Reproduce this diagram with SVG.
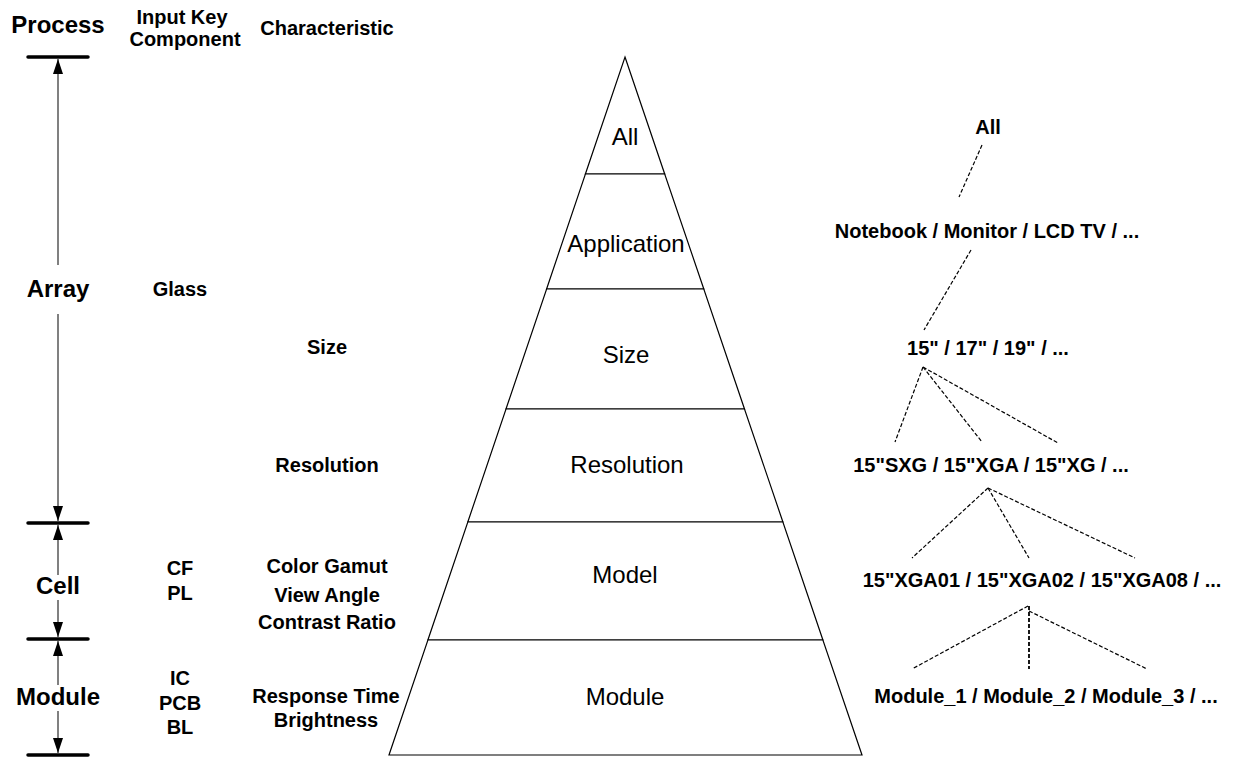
<svg xmlns="http://www.w3.org/2000/svg" width="1233" height="757" viewBox="0 0 1233 757">
  <style>
    text { font-family: "Liberation Sans", Arial, sans-serif; fill: #000; text-anchor: middle; }
    .stage { font-size: 24px; font-weight: bold; }
    .lbl { font-size: 20px; font-weight: bold; }
    .layer-text { font-size: 24px; }
    .layer { fill: #fff; stroke: #000; stroke-width: 1.2; }
    .bar { stroke: #000; stroke-width: 3.5; stroke-linecap: round; }
    .axis { stroke: #808080; stroke-width: 2; fill: none; }
    .dash { stroke: #000; stroke-width: 1.2; stroke-dasharray: 4 2; fill: none; }
  </style>
  <defs>
    <marker id="tip" viewBox="0 0 10 15" refX="5" refY="0" markerWidth="10" markerHeight="15" markerUnits="userSpaceOnUse" orient="auto-start-reverse">
      <path d="M0,15 L5,0 L10,15 Z" fill="#000"/>
    </marker>
    <marker id="tipDown" viewBox="0 0 10 15" refX="5" refY="15" markerWidth="10" markerHeight="15" markerUnits="userSpaceOnUse">
      <path d="M0,0 L10,0 L5,15 Z" fill="#000"/>
    </marker>
    <marker id="tipUp" viewBox="0 0 10 15" refX="5" refY="0" markerWidth="10" markerHeight="15" markerUnits="userSpaceOnUse">
      <path d="M0,15 L10,15 L5,0 Z" fill="#000"/>
    </marker>
  </defs>

  <!-- column headings -->
  <g id="headings">
    <text class="stage" x="58" y="33">Process</text>
    <text class="lbl" x="182" y="24">Input Key</text>
    <text class="lbl" x="185" y="46">Component</text>
    <text class="lbl" x="327" y="35">Characteristic</text>
  </g>

  <!-- process axis: arrows between stage bars -->
  <g id="process-axis">
    <line class="axis" x1="58" y1="59" x2="58" y2="265" marker-start="url(#tipUp)"/>
    <line class="axis" x1="58" y1="314" x2="58" y2="521" marker-end="url(#tipDown)"/>
    <line class="axis" x1="58" y1="525" x2="58" y2="575" marker-start="url(#tipUp)"/>
    <line class="axis" x1="58" y1="600" x2="58" y2="637" marker-end="url(#tipDown)"/>
    <line class="axis" x1="58" y1="641" x2="58" y2="685" marker-start="url(#tipUp)"/>
    <line class="axis" x1="58" y1="711" x2="58" y2="753" marker-end="url(#tipDown)"/>
    <line class="bar" x1="28" y1="57" x2="88" y2="57"/>
    <line class="bar" x1="28" y1="523" x2="88" y2="523"/>
    <line class="bar" x1="28" y1="639" x2="88" y2="639"/>
    <line class="bar" x1="28" y1="755" x2="88" y2="755"/>
  </g>

  <g id="stage-array">
    <text class="stage" x="58" y="297">Array</text>
    <text class="lbl" x="180" y="296">Glass</text>
  </g>
  <g id="stage-cell">
    <text class="stage" x="58" y="594">Cell</text>
    <text class="lbl" x="180" y="575">CF</text>
    <text class="lbl" x="180" y="600">PL</text>
  </g>
  <g id="stage-module">
    <text class="stage" x="58" y="705">Module</text>
    <text class="lbl" x="180" y="685">IC</text>
    <text class="lbl" x="180" y="710">PCB</text>
    <text class="lbl" x="180" y="734">BL</text>
  </g>

  <!-- characteristics -->
  <g id="characteristics">
    <text class="lbl" x="327" y="354">Size</text>
    <text class="lbl" x="327" y="472">Resolution</text>
    <text class="lbl" x="327" y="573">Color Gamut</text>
    <text class="lbl" x="327" y="602">View Angle</text>
    <text class="lbl" x="327" y="629">Contrast Ratio</text>
    <text class="lbl" x="326" y="703">Response Time</text>
    <text class="lbl" x="326" y="727">Brightness</text>
  </g>

  <!-- pyramid layers -->
  <g id="layer-all">
    <polygon class="layer" points="625,57 664.7,174 585.4,174"/>
    <text class="layer-text" x="625" y="145">All</text>
  </g>
  <g id="layer-application">
    <polygon class="layer" points="585.4,174 664.7,174 703.8,289 546.6,289"/>
    <text class="layer-text" x="626" y="252">Application</text>
  </g>
  <g id="layer-size">
    <polygon class="layer" points="546.6,289 703.8,289 744.5,409 506,409"/>
    <text class="layer-text" x="626" y="363">Size</text>
  </g>
  <g id="layer-resolution">
    <polygon class="layer" points="506,409 744.5,409 782.9,522 467.8,522"/>
    <text class="layer-text" x="627" y="473">Resolution</text>
  </g>
  <g id="layer-model">
    <polygon class="layer" points="467.8,522 782.9,522 822.9,640 427.9,640"/>
    <text class="layer-text" x="625" y="583">Model</text>
  </g>
  <g id="layer-module">
    <polygon class="layer" points="427.9,640 822.9,640 862,755 389,755"/>
    <text class="layer-text" x="625" y="705">Module</text>
  </g>

  <!-- hierarchy tree -->
  <g id="tree-all"><text class="lbl" x="988" y="134">All</text></g>
  <g id="tree-application"><text class="lbl" x="987" y="238">Notebook / Monitor / LCD TV / ...</text></g>
  <g id="tree-size"><text class="lbl" x="988" y="355">15" / 17" / 19" / ...</text></g>
  <g id="tree-resolution"><text class="lbl" x="991" y="472">15"SXG / 15"XGA / 15"XG / ...</text></g>
  <g id="tree-model"><text class="lbl" x="1042" y="587">15"XGA01 / 15"XGA02 / 15"XGA08 / ...</text></g>
  <g id="tree-module"><text class="lbl" x="1046" y="703">Module_1 / Module_2 / Module_3 / ...</text></g>

  <g id="connectors">
    <line class="dash" x1="982" y1="145" x2="959" y2="197"/>
    <line class="dash" x1="971" y1="250" x2="924" y2="330"/>
    <line class="dash" x1="923" y1="367" x2="895" y2="442"/>
    <line class="dash" x1="923" y1="367" x2="982" y2="442"/>
    <line class="dash" x1="923" y1="367" x2="1058" y2="443"/>
    <line class="dash" x1="988" y1="488" x2="912" y2="558"/>
    <line class="dash" x1="988" y1="488" x2="1029" y2="558"/>
    <line class="dash" x1="988" y1="488" x2="1135" y2="558"/>
    <line class="dash" x1="1028" y1="606" x2="912" y2="669"/>
    <line class="dash" x1="1029" y1="606" x2="1029" y2="669" style="stroke-width:1.8"/>
    <line class="dash" x1="1029" y1="611" x2="1147" y2="669"/>
  </g>
</svg>
